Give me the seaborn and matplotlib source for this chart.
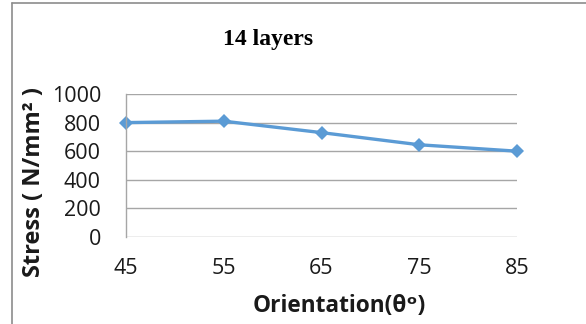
import matplotlib
matplotlib.use("Agg")
import matplotlib.pyplot as plt
import seaborn as sns
import pandas as pd
from matplotlib.lines import Line2D

# Stress versus fibre orientation for the 14-layer laminate
orientation = [45, 55, 65, 75, 85]
stress = [800, 810, 730, 645, 600]
y_ticks = [0, 200, 400, 600, 800, 1000]

df = pd.DataFrame({"orientation": orientation, "stress": stress})

sns.set_theme(style="white")
plt.rcParams["font.family"] = ["Open Sans", "DejaVu Sans"]

fig = plt.figure(figsize=(5.86, 3.24), dpi=100)
ax = fig.add_axes([126 / 586, 1 - 237 / 324, (517 - 126) / 586, (237 - 94) / 324])

sns.lineplot(data=df, x="orientation", y="stress", ax=ax, color="#5B9BD5",
             linewidth=2.4, marker="D", markersize=7.5, markeredgewidth=0,
             clip_on=False)

ax.set_xlim(45, 85)
ax.set_ylim(0, 1000)
ax.set_xticks(orientation)
ax.set_yticks(y_ticks)
ax.yaxis.grid(True, color="#A6A6A6", linewidth=1)
ax.xaxis.grid(False)
ax.set_axisbelow(True)
for side in ["top", "right", "bottom"]:
    ax.spines[side].set_visible(False)
ax.spines["left"].set_color("#A6A6A6")
ax.spines["left"].set_linewidth(1)
ax.tick_params(axis="both", length=0, labelsize=15.5, colors="#1a1a1a")
ax.tick_params(axis="x", pad=15)
ax.tick_params(axis="y", pad=18)

ax.set_xlabel("")
ax.set_ylabel("")
fig.text(34 / 586, 1 - 182 / 324, "Stress ( N/mm² )", rotation=90, ha="center",
         va="center", fontsize=17, fontweight="bold", color="#1a1a1a")
fig.text(339 / 586, 1 - 306 / 324, "Orientation(θᵒ)", ha="center", va="center",
         fontsize=16.3, fontweight="bold", color="#1a1a1a")
fig.text(268 / 586, 1 - 39 / 324, "14 layers", ha="center", va="center",
         fontsize=17, fontweight="bold", family="Liberation Serif", color="black")

# Chart frame edges along the top and left
fig.add_artist(Line2D([12 / 586, 12 / 586], [0, 1 - 3 / 324], color="#8C8C8C", linewidth=1.2))
fig.add_artist(Line2D([12 / 586, 1], [1 - 3 / 324, 1 - 3 / 324], color="#8C8C8C", linewidth=1.2))

fig.savefig("out.png", dpi=100)
